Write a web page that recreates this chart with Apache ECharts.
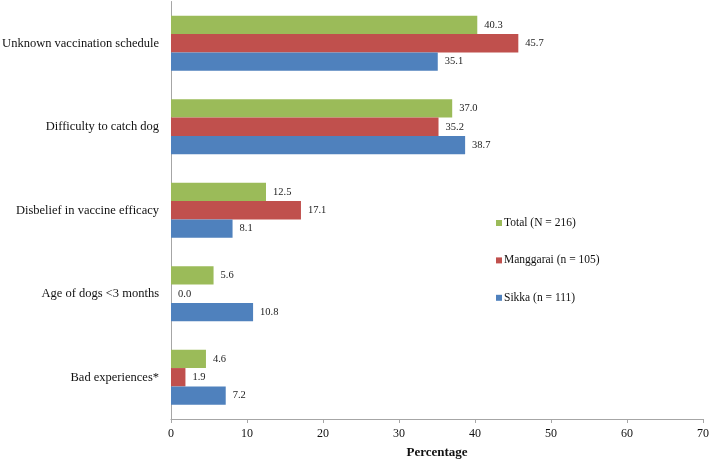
<!DOCTYPE html>
<html><head><meta charset="utf-8">
<script src="https://cdn.jsdelivr.net/npm/echarts@6/dist/echarts.min.js"></script>
<style>html,body{margin:0;padding:0;background:#fff}#c{width:710px;height:459px}</style>
</head><body><div id="c"></div>
<script>
var categories = ["Unknown vaccination schedule","Difficulty to catch dog","Disbelief in vaccine efficacy","Age of dogs <3 months","Bad experiences*"];
var totalVals = [40.3, 37.0, 12.5, 5.6, 4.6];
var manggaraiVals = [45.7, 35.2, 17.1, 0.0, 1.9];
var sikkaVals = [35.1, 38.7, 8.1, 10.8, 7.2];
var seriesNames = ["Total (N = 216)","Manggarai (n = 105)","Sikka (n = 111)"];
var xTicks = {min:0, max:70, interval:10};

var font = "'Liberation Serif','Times New Roman',serif";
var chart = echarts.init(document.getElementById('c'), null, {renderer:'canvas'});
function mk(name, data, color){
  return {name:name, type:'bar', data:data, barGap:'0%', barCategoryGap:'34%',
    itemStyle:{color:color},
    label:{show:true, position:'right', distance:7, color:'#222', fontFamily:font, fontSize:10.5,
      formatter:function(p){return p.value.toFixed(1);}}};
}
chart.setOption({
  animation:false,
  textStyle:{fontFamily:font},
  grid:{left:171, right:7, top:1.5, bottom:40, containLabel:false, outerBoundsMode:'none'},
  legend:{orient:'vertical', left:491, top:212, itemWidth:6, itemHeight:6, itemGap:25.4,
    icon:'rect', data:seriesNames,
    textStyle:{fontFamily:font, fontSize:11.5, lineHeight:12, color:'#111', padding:[0,0,0,-3]}},
  xAxis:{type:'value', min:xTicks.min, max:xTicks.max, interval:xTicks.interval,
    name:'Percentage', nameLocation:'middle', nameGap:27,
    nameTextStyle:{fontFamily:font, fontSize:13, fontWeight:'bold', color:'#111'},
    axisLine:{show:true, lineStyle:{color:'#a6a6a6', width:1}},
    axisTick:{show:true, length:4, lineStyle:{color:'#a6a6a6'}},
    axisLabel:{fontFamily:font, fontSize:12, color:'#111', margin:9},
    splitLine:{show:false}},
  yAxis:{type:'category', data:categories, inverse:true,
    axisLine:{show:true, lineStyle:{color:'#a6a6a6', width:1}},
    axisTick:{show:false},
    axisLabel:{fontFamily:font, fontSize:12.5, color:'#111', margin:12}},
  series:[mk(seriesNames[0], totalVals, '#9bbb59'), mk(seriesNames[1], manggaraiVals, '#c0504d'), mk(seriesNames[2], sikkaVals, '#4f81bd')]
});
</script></body></html>
